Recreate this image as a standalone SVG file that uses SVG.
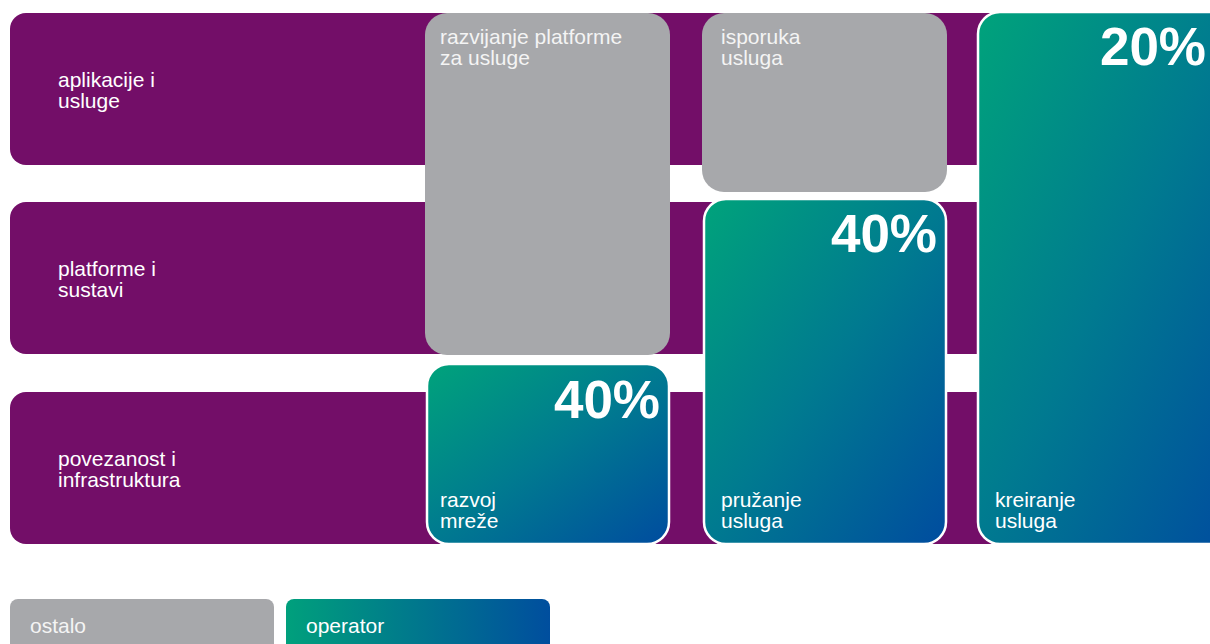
<svg xmlns="http://www.w3.org/2000/svg" width="1210" height="644" viewBox="0 0 1210 644">
<defs>
<linearGradient id="g" x1="0" y1="0" x2="1" y2="1">
<stop offset="0" stop-color="#00a37b"/>
<stop offset="0.5" stop-color="#007a90"/>
<stop offset="1" stop-color="#004c9f"/>
</linearGradient>
<linearGradient id="gh" x1="0" y1="0" x2="1" y2="0">
<stop offset="0" stop-color="#00a07c"/>
<stop offset="1" stop-color="#004e9e"/>
</linearGradient>
<style>
.band{fill:#730e68}
.gray{fill:#a7a8ab}
.op{fill:url(#g);stroke:#ffffff;stroke-width:2.5}
.t{font-family:"Liberation Sans",Arial,sans-serif;font-size:21px;fill:#ffffff}
.tg{font-family:"Liberation Sans",Arial,sans-serif;font-size:21px;fill:#f4f4f4}
.p{font-family:"Liberation Sans",Arial,sans-serif;font-size:53px;font-weight:bold;fill:#ffffff;text-anchor:end}
</style>
</defs>
<g id="band-aplikacije">
<rect class="band" x="10" y="13" width="1000" height="152" rx="16"/>
<text class="t" x="58" y="87">aplikacije i</text>
<text class="t" x="58" y="108">usluge</text>
</g>
<g id="band-platforme">
<rect class="band" x="10" y="202" width="1000" height="152" rx="16"/>
<text class="t" x="58" y="276">platforme i</text>
<text class="t" x="58" y="297">sustavi</text>
</g>
<g id="band-povezanost">
<rect class="band" x="10" y="392" width="1000" height="152" rx="16"/>
<text class="t" x="58" y="466">povezanost i</text>
<text class="t" x="58" y="487">infrastruktura</text>
</g>
<g id="razvijanje-platforme">
<rect class="gray" x="425" y="13" width="245" height="342" rx="22"/>
<text class="tg" x="440" y="44">razvijanje platforme</text>
<text class="tg" x="440" y="65">za usluge</text>
</g>
<g id="isporuka-usluga">
<rect class="gray" x="702" y="13" width="245" height="179" rx="22"/>
<text class="tg" x="721" y="44">isporuka</text>
<text class="tg" x="721" y="65">usluga</text>
</g>
<g id="razvoj-mreze">
<rect class="op" x="427" y="364" width="242" height="180" rx="22"/>
<text class="p" x="660" y="418">40%</text>
<text class="t" x="440" y="507">razvoj</text>
<text class="t" x="440" y="528">mreže</text>
</g>
<g id="pruzanje-usluga">
<rect class="op" x="704" y="199" width="242" height="345" rx="22"/>
<text class="p" x="937" y="252">40%</text>
<text class="t" x="721" y="507">pružanje</text>
<text class="t" x="721" y="528">usluga</text>
</g>
<g id="kreiranje-usluga">
<rect class="op" x="978" y="12" width="262" height="532" rx="22"/>
<text class="p" x="1206" y="65">20%</text>
<text class="t" x="995" y="507">kreiranje</text>
<text class="t" x="995" y="528">usluga</text>
</g>
<g id="legend-ostalo">
<rect class="gray" x="10" y="599" width="264" height="60" rx="8"/>
<text class="tg" x="30" y="633">ostalo</text>
</g>
<g id="legend-operator">
<rect x="286" y="599" width="264" height="60" rx="8" fill="url(#gh)"/>
<text class="t" x="306" y="633">operator</text>
</g>
<g id="connectors"></g>
</svg>
